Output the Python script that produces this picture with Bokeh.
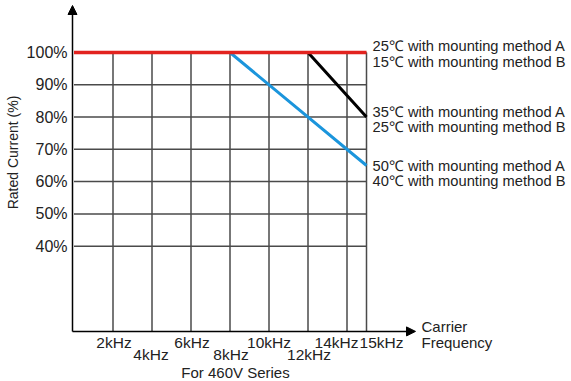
import math
from bokeh.plotting import figure
from bokeh.models import Arrow, NormalHead
from bokeh.core.properties import value
from bokeh.embed import file_html
from bokeh.resources import INLINE

# ---------------- data ----------------
freq_ticks = [2, 4, 6, 8, 10, 12, 14, 15]
freq_labels = ["2kHz", "4kHz", "6kHz", "8kHz", "10kHz", "12kHz", "14kHz", "15kHz"]
freq_rows = [1, 2, 1, 2, 1, 2, 1, 1]
current_ticks = [100, 90, 80, 70, 60, 50, 40]
current_labels = ["100%", "90%", "80%", "70%", "60%", "50%", "40%"]

red_freq = [0, 15]
red_current = [100, 100]
black_freq = [0, 12, 15]
black_current = [100, 100, 80]
blue_freq = [0, 8, 15]
blue_current = [100, 100, 65]

red_notes = ["25\u2103 with mounting method A", "15\u2103 with mounting method B"]
black_notes = ["35\u2103 with mounting method A", "25\u2103 with mounting method B"]
blue_notes = ["50\u2103 with mounting method A", "40\u2103 with mounting method B"]

x_max = 15
axis_floor = 13.6  # where the frequency axis crosses the current axis

# ---------------- layout helpers (pixel -> data) ----------------
W, H = 571, 381
PX0, SX = 73.5, 19.5      # pixel of 0 kHz, pixels per kHz
PY100, SY = 52.0, 3.228   # pixel of 100 %, pixels per %
def X(px):
    return (px - PX0) / SX
def Y(py):
    return 100 - (py - PY100) / SY

x0, x1 = X(0), X(W)
y0, y1 = Y(H), Y(0)

FONT = value("Liberation Sans")
GRID = "#4a4a4a"
TXT = "#222222"

p = figure(width=W, height=H, x_range=(x0, x1), y_range=(y0, y1),
           output_backend="svg", toolbar_location=None, min_border=0,
           x_axis_location=None, y_axis_location=None)
p.grid.visible = False
p.outline_line_color = None
p.background_fill_color = "white"

# grid
p.segment(x0=freq_ticks, y0=[axis_floor] * len(freq_ticks), x1=freq_ticks,
          y1=[100] * len(freq_ticks), line_color=GRID, line_width=1.5)
p.segment(x0=[0] * len(current_ticks), y0=current_ticks,
          x1=[x_max] * len(current_ticks), y1=current_ticks,
          line_color=GRID, line_width=1.5)

# axes with arrows
p.add_layout(Arrow(end=NormalHead(size=9, fill_color="black", line_color="black"),
                   x_start=X(72), y_start=axis_floor, x_end=X(72), y_end=Y(5),
                   line_color="black", line_width=1.5))
p.add_layout(Arrow(end=NormalHead(size=9, fill_color="black", line_color="black"),
                   x_start=X(72), y_start=axis_floor, x_end=X(415), y_end=axis_floor,
                   line_color="black", line_width=1.5))

# series
p.line(blue_freq, blue_current, line_color="#1b95dc", line_width=3)
p.line(black_freq, black_current, line_color="black", line_width=3)
p.line(red_freq, red_current, line_color="#e2231f", line_width=3.5)

# y tick labels
p.text(x=[X(67)] * len(current_ticks), y=current_ticks, text=current_labels,
       text_align="right", text_baseline="middle", text_font=FONT,
       text_font_size="16px", text_color=TXT)

# x tick labels (staggered)
label_dx = [1, -1, 1, 1, 0, 1, -10.5, 15]
p.text(x=[t + dx / SX for t, dx in zip(freq_ticks, label_dx)],
       y=[Y(341.5) if r == 1 else Y(354) for r in freq_rows],
       text=freq_labels, text_align="center", text_baseline="middle",
       text_font=FONT, text_font_size="15.5px", text_color=TXT)

# series notes
notes = red_notes + black_notes + blue_notes
note_y = [Y(45), Y(61), Y(111), Y(126.5), Y(165), Y(180.5)]
p.text(x=[X(372)] * len(notes), y=note_y, text=notes,
       text_align="left", text_baseline="middle", text_font=FONT,
       text_font_size="14.7px", text_color=TXT)

# axis titles
p.text(x=[X(421), X(421)], y=[Y(326), Y(342)], text=["Carrier", "Frequency"],
       text_align="left", text_baseline="middle", text_font=FONT,
       text_font_size="15px", text_color=TXT)
p.text(x=[X(235)], y=[Y(372)], text=["For 460V Series"],
       text_align="center", text_baseline="middle", text_font=FONT,
       text_font_size="15px", text_color=TXT)
p.text(x=[X(12)], y=[Y(152)], text=["Rated Current (%)"], angle=math.pi / 2,
       text_align="center", text_baseline="middle", text_font=FONT,
       text_font_size="14px", text_color=TXT)

open("out.html", "w").write(file_html(p, INLINE))
